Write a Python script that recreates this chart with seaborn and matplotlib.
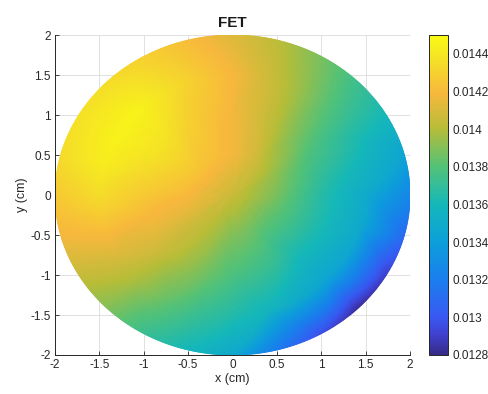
import numpy as np
import matplotlib
matplotlib.use("Agg")
import matplotlib.pyplot as plt
import matplotlib.tri as mtri
import seaborn as sns
from matplotlib.colors import LinearSegmentedColormap

# ---- data (polar grid, angle in degrees from +x, CCW) ----
theta_deg = [0, 15, 30, 45, 60, 75, 90, 105, 120, 135, 150, 165,
             180, 195, 210, 225, 240, 255, 270, 285, 300, 315, 330, 345]
radii = [0.0, 0.5, 1.0, 1.5, 2.0]
center_value = 0.01406
ring_05 = [0.01388, 0.01391, 0.01395, 0.01401, 0.01408, 0.01413, 0.01418, 0.01421,
           0.01423, 0.01425, 0.01425, 0.01423, 0.01420, 0.01416, 0.01411, 0.01405,
           0.01400, 0.01395, 0.01390, 0.01388, 0.01385, 0.01383, 0.01383, 0.01385]
ring_10 = [0.01366, 0.01371, 0.01378, 0.01388, 0.01400, 0.01410, 0.01418, 0.01424,
           0.01430, 0.01437, 0.01438, 0.01433, 0.01427, 0.01420, 0.01413, 0.01404,
           0.01395, 0.01386, 0.01378, 0.01374, 0.01370, 0.01363, 0.01364, 0.01365]
ring_15 = [0.01350, 0.01358, 0.01367, 0.01380, 0.01395, 0.01408, 0.01419, 0.01428,
           0.01437, 0.01446, 0.01446, 0.01443, 0.01435, 0.01424, 0.01411, 0.01398,
           0.01385, 0.01373, 0.01365, 0.01358, 0.01350, 0.01345, 0.01346, 0.01348]
ring_20 = [0.01325, 0.01345, 0.01360, 0.01373, 0.01388, 0.01402, 0.01412, 0.01422,
           0.01430, 0.01435, 0.01437, 0.01435, 0.01427, 0.01418, 0.01405, 0.01390,
           0.01372, 0.01360, 0.01348, 0.01318, 0.01297, 0.01283, 0.01290, 0.01310]
color_min, color_max = 0.0128, 0.01450
cbar_ticks = [0.0128, 0.0130, 0.0132, 0.0134, 0.0136, 0.0138, 0.0140, 0.0142, 0.0144]
axis_ticks = [-2, -1.5, -1, -0.5, 0, 0.5, 1, 1.5, 2]

# ---- parula-like colormap (style) ----
parula_pos = [0.00, 0.06, 0.12, 0.24, 0.35, 0.47, 0.59, 0.71, 0.82, 0.93, 1.00]
parula_rgb = [(0.208, 0.166, 0.529), (0.25, 0.25, 0.80), (0.22, 0.35, 0.95),
              (0.10, 0.50, 0.93), (0.05, 0.62, 0.86), (0.08, 0.72, 0.73),
              (0.33, 0.76, 0.47), (0.72, 0.74, 0.22), (0.97, 0.72, 0.24),
              (0.96, 0.89, 0.15), (0.98, 0.98, 0.08)]
parula = LinearSegmentedColormap.from_list("parula", list(zip(parula_pos, parula_rgb)), N=256)

sns.set_theme(style="ticks")
plt.rcParams['font.family'] = ['Liberation Sans', 'DejaVu Sans']

# polar grid nodes (theta, r) with wrap-around column
th = np.deg2rad(np.array(theta_deg + [360]))
R = np.array(radii)
TH, RR = np.meshgrid(th, R)
rows = [[center_value] * len(theta_deg), ring_05, ring_10, ring_15, ring_20]
C = np.array([r + [r[0]] for r in rows])

# linear rendering over the (theta, r) triangulation, drawn on a fine polar mesh
tri = mtri.Triangulation(TH.ravel(), RR.ravel())
interp = mtri.LinearTriInterpolator(tri, C.ravel())
th_f = np.linspace(0, 2 * np.pi, 721)
r_f = np.linspace(0, 2, 81)
THf, RRf = np.meshgrid(th_f, r_f)
Cf = interp(THf, RRf)
Xf = RRf * np.cos(THf)
Yf = RRf * np.sin(THf)

fig = plt.figure(figsize=(4.89, 3.94), dpi=100)
ax = fig.add_axes([0.1125, 0.099, 0.726, 0.812])
cax = fig.add_axes([0.877, 0.099, 0.039, 0.812])

ax.grid(True, color='#dcdcdc', linewidth=0.6, zorder=0)
ax.set_axisbelow(True)
mesh = ax.pcolormesh(Xf, Yf, Cf, shading='gouraud', cmap=parula,
                     vmin=color_min, vmax=color_max, zorder=2)

ax.set_xlim(-2, 2)
ax.set_ylim(-2, 2)
ax.set_xticks(axis_ticks)
ax.set_yticks(axis_ticks)
ax.set_xticklabels([f"{t:g}" for t in axis_ticks])
ax.set_yticklabels([f"{t:g}" for t in axis_ticks])
ax.tick_params(direction='in', length=3, width=0.6, labelsize=8.5,
               colors='#262626', pad=3)
for s in ['top', 'right']:
    ax.spines[s].set_visible(False)
for s in ['left', 'bottom']:
    ax.spines[s].set_color('#262626')
    ax.spines[s].set_linewidth(0.7)
ax.set_xlabel("x (cm)", fontsize=9, color='#262626', labelpad=1)
ax.set_ylabel("y (cm)", fontsize=9, color='#262626', labelpad=2)
ax.set_title("FET", fontsize=11, fontweight='bold', color='#1a1a1a', pad=6)

cb = fig.colorbar(mesh, cax=cax)
cb.set_ticks(cbar_ticks)
cb.set_ticklabels([f"{t:g}" for t in cbar_ticks])
cb.ax.tick_params(direction='in', length=3, width=0.6, labelsize=8.5,
                  colors='#262626', pad=3)
cb.outline.set_linewidth(0.7)
cb.outline.set_edgecolor('#262626')

fig.savefig("out.png", dpi=100)
